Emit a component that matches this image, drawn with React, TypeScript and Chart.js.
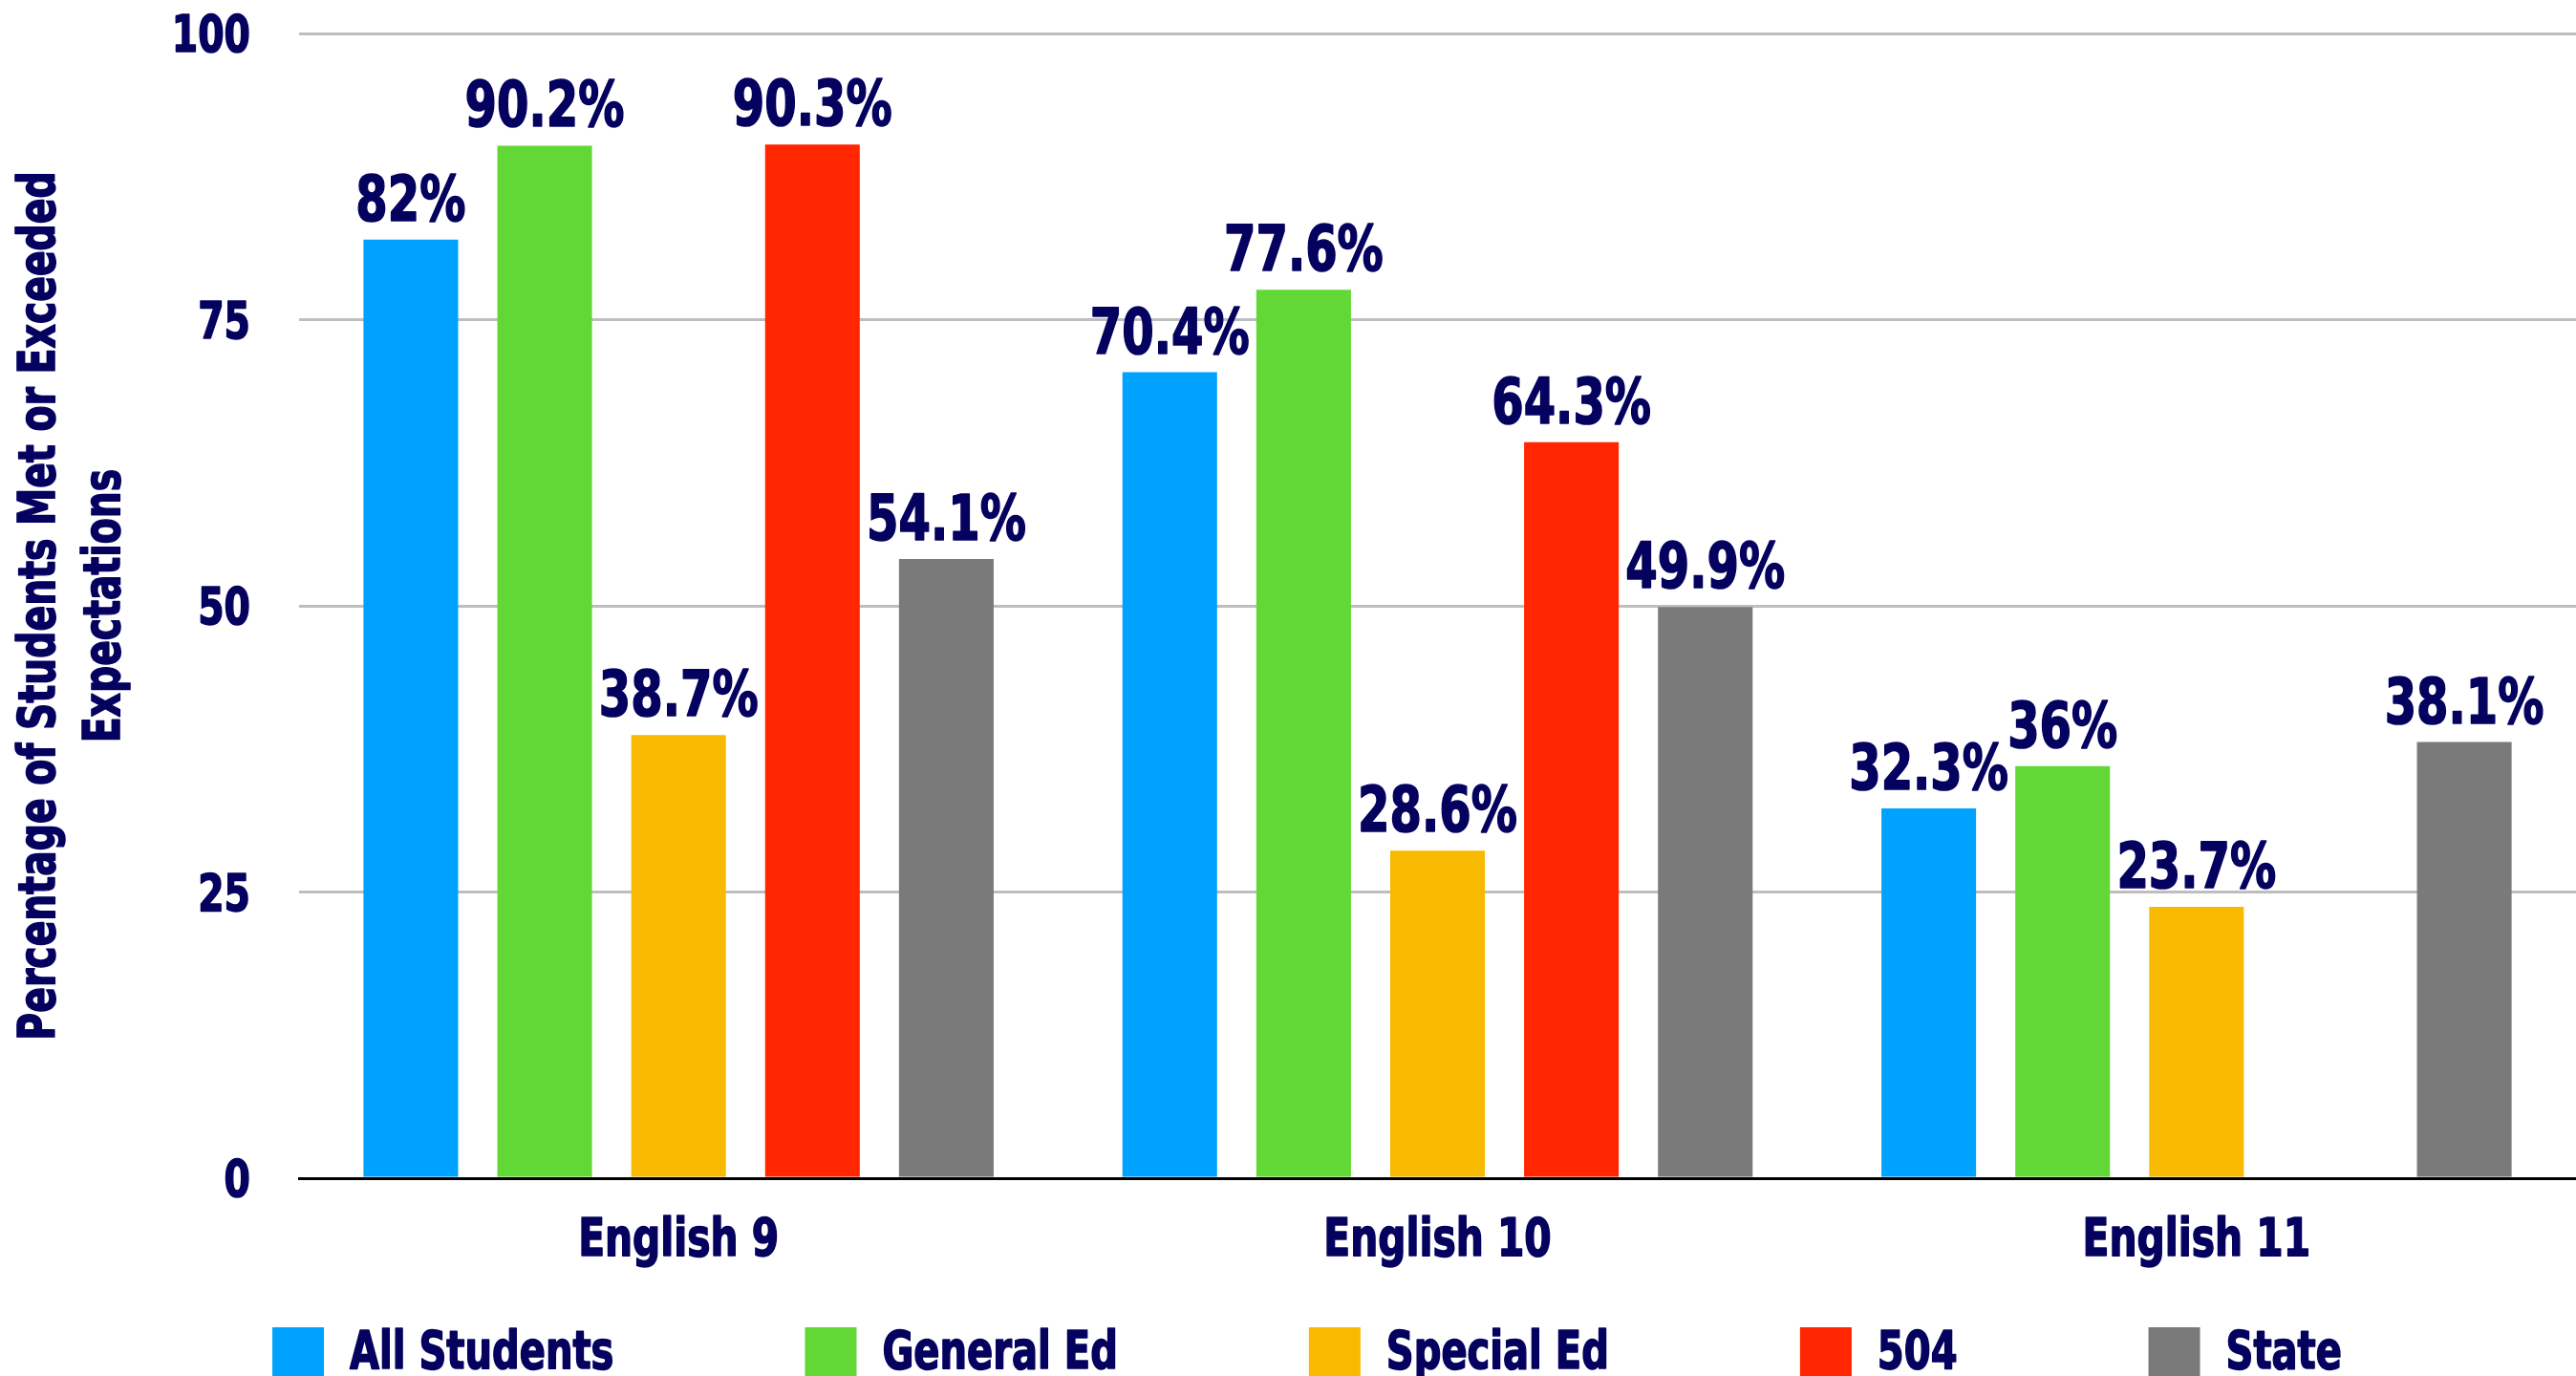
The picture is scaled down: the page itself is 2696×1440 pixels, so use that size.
import React, { useEffect, useRef } from "react";
import { Chart, registerables } from "chart.js";

Chart.register(...registerables);

const categories = ["English 9", "English 10", "English 11"];
const seriesNames = ["All Students", "General Ed", "Special Ed", "504", "State"];
const allStudents = [82, 70.4, 32.3];
const generalEd = [90.2, 77.6, 36];
const specialEd = [38.7, 28.6, 23.7];
const section504 = [90.3, 64.3, null];
const stateValues = [54.1, 49.9, 38.1];
const seriesColors = ["#00A2FF", "#61D836", "#F8BA00", "#FF2600", "#7A7A7A"];
const yTicks = [0, 25, 50, 75, 100];
const yTitle = ["Percentage of Students Met or Exceeded", "Expectations"];

const NAVY = "#04015F";
const FONT = "'DejaVu Sans Condensed', 'DejaVu Sans', sans-serif";
const SQUEEZE = 0.81;

function drawSqueezed(ctx: any, text: string, x: number, y: number, align: string) {
  ctx.save();
  ctx.translate(x, y);
  ctx.scale(SQUEEZE, 1);
  ctx.textAlign = align;
  ctx.strokeText(text, 0, 0);
  ctx.fillText(text, 0, 0);
  ctx.restore();
}

const textPlugin = {
  id: "chartTexts",
  afterDatasetsDraw(chart: any) {
    const ctx = chart.ctx;
    const area = chart.chartArea;
    ctx.save();
    ctx.fillStyle = NAVY;
    ctx.strokeStyle = NAVY;
    ctx.lineWidth = 1.6;
    ctx.lineJoin = "round";
    ctx.textBaseline = "alphabetic";

    // value labels above bars
    ctx.font = `bold 66px ${FONT}`;
    chart.data.datasets.forEach((ds: any, i: number) => {
      const meta = chart.getDatasetMeta(i);
      meta.data.forEach((el: any, j: number) => {
        const v = ds.data[j];
        if (v === null || v === undefined) return;
        drawSqueezed(ctx, `${v}%`, el.x, el.y - 20, "center");
      });
    });

    // y tick labels
    const yScale = chart.scales.y;
    ctx.font = `bold 54px ${FONT}`;
    yScale.ticks.forEach((t: any) => {
      const py = yScale.getPixelForValue(t.value);
      drawSqueezed(ctx, String(t.value), area.left - 51, py + 19, "right");
    });

    // x category labels
    const xScale = chart.scales.x;
    ctx.font = `bold 56px ${FONT}`;
    chart.data.labels.forEach((lab: string, i: number) => {
      const px = xScale.getPixelForValue(i);
      drawSqueezed(ctx, lab, px, area.bottom + 81, "center");
    });

    // y axis title (rotated, two lines)
    ctx.font = `bold 54px ${FONT}`;
    const cy = (area.top + area.bottom) / 2;
    yTitle.forEach((line, k) => {
      ctx.save();
      ctx.translate(57 + k * 68, cy);
      ctx.rotate(-Math.PI / 2);
      ctx.scale(SQUEEZE, 1);
      ctx.textAlign = "center";
      ctx.strokeText(line, 0, 0);
      ctx.fillText(line, 0, 0);
      ctx.restore();
    });

    // legend
    ctx.font = `bold 55px ${FONT}`;
    const box = 54;
    const gap = 27;
    const spacing = 200;
    const items = chart.data.datasets.map((ds: any) => ({
      label: ds.label,
      color: ds.backgroundColor,
      w: ctx.measureText(ds.label).width * SQUEEZE,
    }));
    const total =
      items.reduce((s: number, it: any) => s + box + gap + it.w, 0) + spacing * (items.length - 1);
    let x = chart.width / 2 + 20 - total / 2;
    const top = 1389;
    items.forEach((it: any) => {
      ctx.fillStyle = it.color;
      ctx.fillRect(x, top, box, box);
      ctx.fillStyle = NAVY;
      drawSqueezed(ctx, it.label, x + box + gap, top + 43, "left");
      x += box + gap + it.w + spacing;
    });
    ctx.restore();
  },
};

export default function App() {
  const canvasRef = useRef<HTMLCanvasElement | null>(null);

  useEffect(() => {
    document.body.style.margin = "0";
    const canvas = canvasRef.current;
    if (!canvas) return;
    const seriesData = [allStudents, generalEd, specialEd, section504, stateValues];
    const chart = new Chart(canvas, {
      type: "bar",
      data: {
        labels: categories,
        datasets: seriesNames.map((name, i) => ({
          label: name,
          data: seriesData[i] as any,
          backgroundColor: seriesColors[i],
          borderWidth: 0,
          categoryPercentage: 0.882,
          barPercentage: 0.707,
        })),
      },
      options: {
        animation: false,
        responsive: false,
        devicePixelRatio: 1,
        layout: { padding: { top: 35, bottom: 107, left: 0, right: 0 } },
        plugins: {
          legend: { display: false },
          tooltip: { enabled: false },
        },
        scales: {
          x: {
            grid: { display: false, drawTicks: false },
            border: { display: true, color: "#000000", width: 3 },
            ticks: { display: false },
            afterFit(scale: any) {
              scale.height = 100;
            },
          },
          y: {
            min: 0,
            max: 100,
            afterBuildTicks(scale: any) {
              scale.ticks = yTicks.map((v) => ({ value: v }));
            },
            grid: { color: "#BEBEBE", lineWidth: 3, drawTicks: false },
            border: { display: false },
            ticks: { display: false },
            afterFit(scale: any) {
              scale.width = 313;
            },
          },
        },
      },
      plugins: [textPlugin],
    });
    return () => chart.destroy();
  }, []);

  return (
    <div style={{ width: 2696, height: 1440, overflow: "hidden", background: "#ffffff" }}>
      <canvas ref={canvasRef} width={2696} height={1440} style={{ display: "block" }} />
    </div>
  );
}
